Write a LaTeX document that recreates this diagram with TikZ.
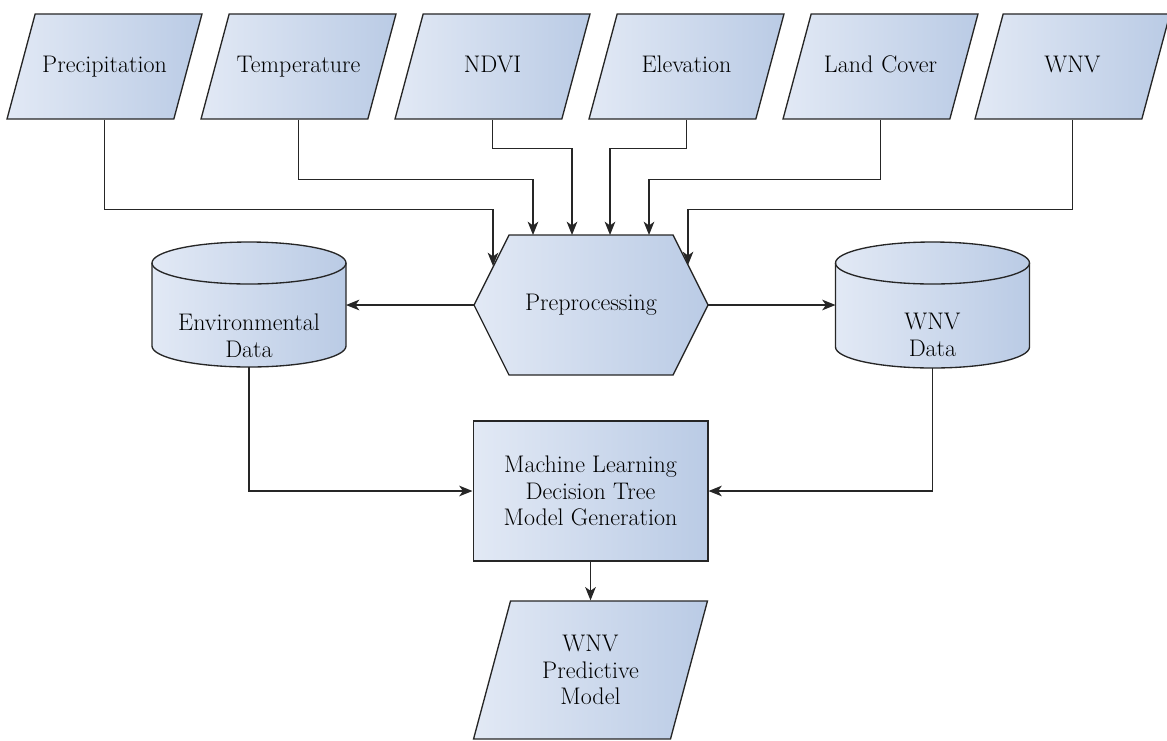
\documentclass[tikz,border=0pt]{standalone}
\usetikzlibrary{shapes.geometric,arrows.meta}
\definecolor{boxl}{RGB}{226,233,245}
\definecolor{boxr}{RGB}{186,203,229}
\begin{document}
\begin{tikzpicture}[x=0.75pt,y=0.75pt,
	line/.style={draw=black!85,line width=1pt},
	arr/.style={line,-{Stealth[length=10pt,width=8pt,inset=2.8pt]}},
	shadefill/.style={left color=boxl,right color=boxr},
	txt/.style={font=\fontsize{18}{20}\selectfont,align=center},
	slant/.style={trapezium,trapezium left angle=75,trapezium right angle=105,
		inner xsep=0pt,line,shadefill,txt},
	inbox/.style={slant,text width=104pt,text height=13pt,text depth=4pt,inner ysep=30.9pt},
	outbox/.style={slant,text width=120pt,inner ysep=25.5pt},
	procbox/.style={rectangle,minimum width=176pt,minimum height=105pt,
		inner sep=0pt,line,shadefill,txt}]
			\useasboundingbox (0,0) rectangle (1167,-740);
			
			% input data
			\node[inbox] (prec) at (104.5,-66.5) {Precipitation};
			\node[inbox] (temp) at (298.5,-66.5) {Temperature};
			\node[inbox] (ndvi) at (492.5,-66.5) {NDVI};
			\node[inbox] (elev) at (686.5,-66.5) {Elevation};
			\node[inbox] (land) at (880.5,-66.5) {Land Cover};
			\node[inbox] (wnv) at (1072.5,-66.5) {WNV};
			
			% preprocessing hexagon
			\coordinate (pre-w) at (474,-305);
			\coordinate (pre-e) at (708,-305);
			\draw[line,shadefill] (pre-w) -- (509,-235) -- (673,-235) -- (pre-e)
				-- (673,-375) -- (509,-375) -- cycle;
			\node[txt] (pre) at (591,-305) {Preprocessing};
			
			\coordinate (in1) at (493,-266);
			\coordinate (in2) at (533,-235);
			\coordinate (in3) at (572,-235);
			\coordinate (in4) at (610,-235);
			\coordinate (in5) at (649,-235);
			\coordinate (in6) at (688,-265);
			
			% databases
			\draw[line,shadefill] (152,-263) arc[start angle=180,end angle=0,x radius=97,y radius=21]
				-- (346,-346) arc[start angle=0,end angle=-180,x radius=97,y radius=21] -- cycle;
			\draw[line] (152,-263) arc[start angle=180,end angle=360,x radius=97,y radius=21];
			\node[txt] (env) at (249,-336) {Environmental\\Data};
			\coordinate (env-e) at (346,-305);
			\coordinate (env-s) at (249,-367);
			
			\draw[line,shadefill] (835.5,-263) arc[start angle=180,end angle=0,x radius=97,y radius=21]
				-- (1029.5,-347) arc[start angle=0,end angle=-180,x radius=97,y radius=21] -- cycle;
			\draw[line] (835.5,-263) arc[start angle=180,end angle=360,x radius=97,y radius=21];
			\node[txt] (db) at (932.5,-335) {WNV\\Data};
			\coordinate (db-w) at (835.5,-305);
			\coordinate (db-s) at (932.5,-368);
			
			% model
			\node[procbox] (ml) at (590.5,-491) {Machine Learning\\Decision Tree\\Model Generation};
			\node[outbox] (out) at (590.5,-670) {WNV\\Predictive\\Model};
			
			\draw[arr] (prec.south) -- ++(0,-90) -| (in1);
			\draw[arr] (temp.south) -- ++(0,-60) -| (in2);
			\draw[arr] (ndvi.south) -- ++(0,-29) -| (in3);
			\draw[arr] (elev.south) -- ++(0,-29) -| (in4);
			\draw[arr] (land.south) -- ++(0,-60) -| (in5);
			\draw[arr] (wnv.south) -- ++(0,-90) -| (in6);
			
			\draw[arr] (pre-w) -- (env-e);
			\draw[arr] (pre-e) -- (db-w);
			\draw[arr] (env-s) |- (ml.west);
			\draw[arr] (db-s) |- (ml.east);
			\draw[arr] (ml.south) -- (out.north);
		\end{tikzpicture}
\end{document}
